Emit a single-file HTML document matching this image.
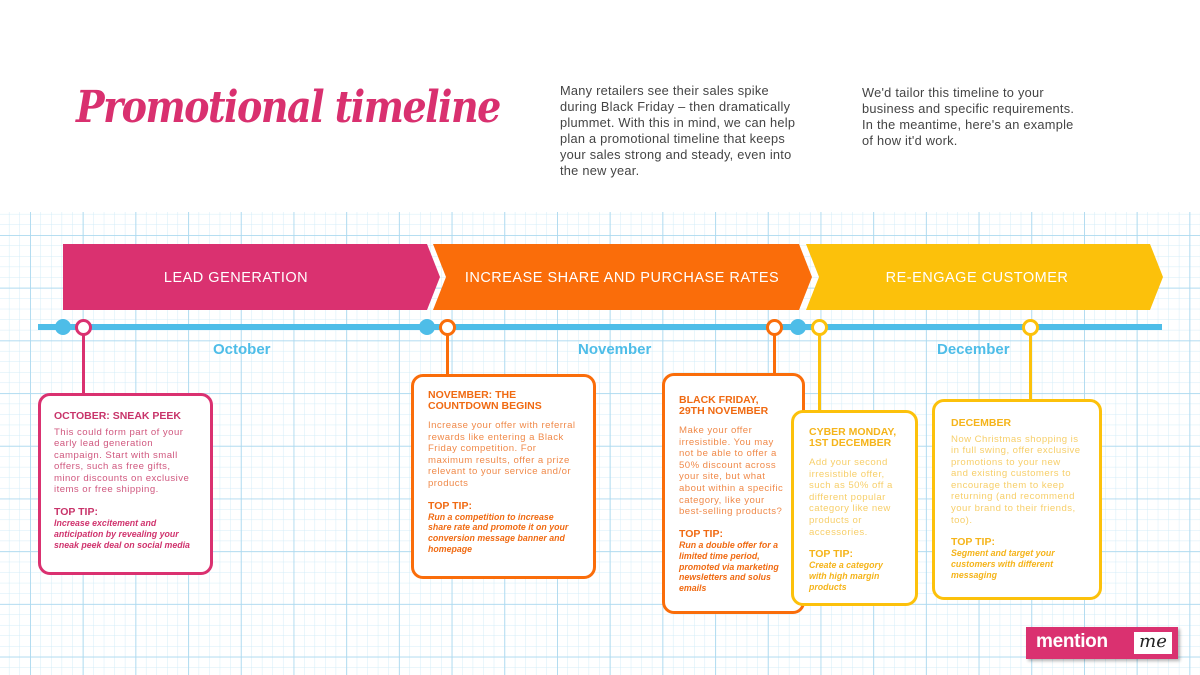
<!DOCTYPE html>
<html><head><meta charset="utf-8">
<style>
*{margin:0;padding:0;box-sizing:border-box}
body{width:1200px;height:675px;position:relative;overflow:hidden;background:#fff;font-family:"Liberation Sans",sans-serif}
.abs{position:absolute}
.intro{position:absolute;font-size:12.8px;line-height:16px;color:#444;white-space:nowrap;letter-spacing:0.25px}
.box{position:absolute;background:#fff;border:3px solid;border-radius:12px;padding:0 0 0 13px;white-space:nowrap}
.box h4{font-size:10.5px;line-height:10.5px;font-weight:bold;margin-bottom:5px}
.box p{font-size:9.6px;line-height:11.6px;letter-spacing:0.45px}
.box h5{font-size:10.5px;font-weight:bold;line-height:11px;margin-top:11px}
.box i{display:block;font-size:8.8px;line-height:10.9px;font-weight:bold}
.month{position:absolute;font-size:15px;font-weight:bold;color:#4ebde8;top:341px}
.conn{position:absolute;width:3px}
.ring{position:absolute;width:17px;height:17px;border-radius:50%;background:#fff;border:3px solid;top:319px}
.dot{position:absolute;width:16px;height:16px;border-radius:50%;background:#4ebde8;top:319px}
</style></head><body>
<svg class="abs" style="left:0;top:212px" width="1200" height="463">
<defs>
<pattern id="mn" x="30" y="23" width="10.54" height="10.54" patternUnits="userSpaceOnUse"><path d="M0 0H10.54M0 0V10.54" stroke="#d3ecf7" stroke-width="1" fill="none"/></pattern>
<pattern id="mj" x="30" y="23" width="52.7" height="52.7" patternUnits="userSpaceOnUse"><path d="M0 0H52.7M0 0V52.7" stroke="#acd9ef" stroke-width="1.8" fill="none"/></pattern>
</defs>
<rect width="1200" height="463" fill="url(#mn)"/>
<rect width="1200" height="463" fill="url(#mj)"/>
</svg>

<div class="abs" style="left:76px;top:84px;font-family:'DejaVu Serif','Liberation Serif',serif;font-style:italic;font-weight:bold;font-size:38px;color:#d9306f;letter-spacing:-1.5px;transform:scaleY(1.15)">Promotional timeline</div>

<div class="intro" style="left:560px;top:83px">Many retailers see their sales spike<br>during Black Friday – then dramatically<br>plummet. With this in mind, we can help<br>plan a promotional timeline that keeps<br>your sales strong and steady, even into<br>the new year.</div>
<div class="intro" style="left:862px;top:85px">We'd tailor this timeline to your<br>business and specific requirements.<br>In the meantime, here's an example<br>of how it'd work.</div>

<svg class="abs" style="left:0;top:0" width="1200" height="330">
<polygon points="63,244 427,244 440,277 427,310 63,310" fill="#da3170"/>
<polygon points="433,244 799,244 812,277 799,310 433,310 446,277" fill="#fa6d0a"/>
<polygon points="806,244 1150,244 1163,277 1150,310 806,310 819,277" fill="#fcc10b"/>
<text x="236" y="282" fill="#fff" font-size="14.5" font-family="Liberation Sans" text-anchor="middle" letter-spacing="0.5">LEAD GENERATION</text>
<text x="622" y="282" fill="#fff" font-size="14.5" font-family="Liberation Sans" text-anchor="middle" letter-spacing="0.5">INCREASE SHARE AND PURCHASE RATES</text>
<text x="977" y="282" fill="#fff" font-size="14.5" font-family="Liberation Sans" text-anchor="middle" letter-spacing="0.5">RE-ENGAGE CUSTOMER</text>
<rect x="38" y="324" width="1124" height="6" fill="#4ebde8"/>
</svg>

<div class="dot" style="left:55px"></div>
<div class="dot" style="left:419px"></div>
<div class="dot" style="left:790px"></div>

<div class="conn" style="left:82px;top:330px;height:65px;background:#da3170"></div>
<div class="conn" style="left:446px;top:330px;height:46px;background:#fa6d0a"></div>
<div class="conn" style="left:773px;top:330px;height:45px;background:#fa6d0a"></div>
<div class="conn" style="left:818px;top:330px;height:82px;background:#fcc10b"></div>
<div class="conn" style="left:1029px;top:330px;height:71px;background:#fcc10b"></div>

<div class="ring" style="left:75px;border-color:#da3170"></div>
<div class="ring" style="left:439px;border-color:#fa6d0a"></div>
<div class="ring" style="left:766px;border-color:#fa6d0a"></div>
<div class="ring" style="left:811px;border-color:#fcc10b"></div>
<div class="ring" style="left:1022px;border-color:#fcc10b"></div>

<div class="month" style="left:213px">October</div>
<div class="month" style="left:578px">November</div>
<div class="month" style="left:937px">December</div>

<div class="box" style="left:38px;top:393px;width:175px;height:182px;border-color:#da3170;padding-top:15px">
<h4 style="color:#c8346a">OCTOBER: SNEAK PEEK</h4>
<p style="color:#d0587f">This could form part of your<br>early lead generation<br>campaign. Start with small<br>offers, such as free gifts,<br>minor discounts on exclusive<br>items or free shipping.</p>
<h5 style="color:#c8346a">TOP TIP:</h5>
<i style="color:#d0336d">Increase excitement and<br>anticipation by revealing your<br>sneak peek deal on social media</i>
</div>

<div class="box" style="left:411px;top:374px;width:185px;height:205px;border-color:#fa6d0a;padding-top:13px;padding-left:14px">
<h4 style="color:#f06a12;line-height:11px">NOVEMBER: THE<br>COUNTDOWN BEGINS</h4>
<p style="color:#f08a4a;margin-top:8px">Increase your offer with referral<br>rewards like entering a Black<br>Friday competition. For<br>maximum results, offer a prize<br>relevant to your service and/or<br>products</p>
<h5 style="color:#f06a12">TOP TIP:</h5>
<i style="color:#f06a12">Run a competition to increase<br>share rate and promote it on your<br>conversion message banner and<br>homepage</i>
</div>

<div class="box" style="left:662px;top:373px;width:143px;height:241px;border-color:#fa6d0a;padding-top:19px;padding-left:14px">
<h4 style="color:#f06a12;line-height:11px">BLACK FRIDAY,<br>29TH NOVEMBER</h4>
<p style="color:#f08a4a;margin-top:8px">Make your offer<br>irresistible. You may<br>not be able to offer a<br>50% discount across<br>your site, but what<br>about within a specific<br>category, like your<br>best-selling products?</p>
<h5 style="color:#f06a12">TOP TIP:</h5>
<i style="color:#f06a12">Run a double offer for a<br>limited time period,<br>promoted via marketing<br>newsletters and solus<br>emails</i>
</div>

<div class="box" style="left:791px;top:410px;width:127px;height:196px;border-color:#fcc10b;padding-top:14px;padding-left:15px">
<h4 style="color:#f5b41a;line-height:11px">CYBER MONDAY,<br>1ST DECEMBER</h4>
<p style="color:#f7cf6a;margin-top:8px">Add your second<br>irresistible offer,<br>such as 50% off a<br>different popular<br>category like new<br>products or<br>accessories.</p>
<h5 style="color:#f5b41a">TOP TIP:</h5>
<i style="color:#f5b41a">Create a category<br>with high margin<br>products</i>
</div>

<div class="box" style="left:932px;top:399px;width:170px;height:201px;border-color:#fcc10b;padding-top:16px;padding-left:16px">
<h4 style="color:#f5b41a">DECEMBER</h4>
<p style="color:#f7cf6a">Now Christmas shopping is<br>in full swing, offer exclusive<br>promotions to your new<br>and existing customers to<br>encourage them to keep<br>returning (and recommend<br>your brand to their friends,<br>too).</p>
<h5 style="color:#f5b41a">TOP TIP:</h5>
<i style="color:#f5b41a">Segment and target your<br>customers with different<br>messaging</i>
</div>

<div class="abs" style="left:1026px;top:627px;width:152px;height:32px;background:#da3170;box-shadow:2px 2px 3px rgba(0,0,0,0.3)">
<div class="abs" style="left:10px;top:4px;color:#fff;font-weight:bold;font-size:19px;letter-spacing:-0.3px">mention</div>
<div class="abs" style="left:108px;top:5px;width:38px;height:22px;background:#fff;color:#222;font-family:'DejaVu Serif',serif;font-style:italic;font-size:18px;line-height:20px;text-align:center">me</div>
</div>
</body></html>
